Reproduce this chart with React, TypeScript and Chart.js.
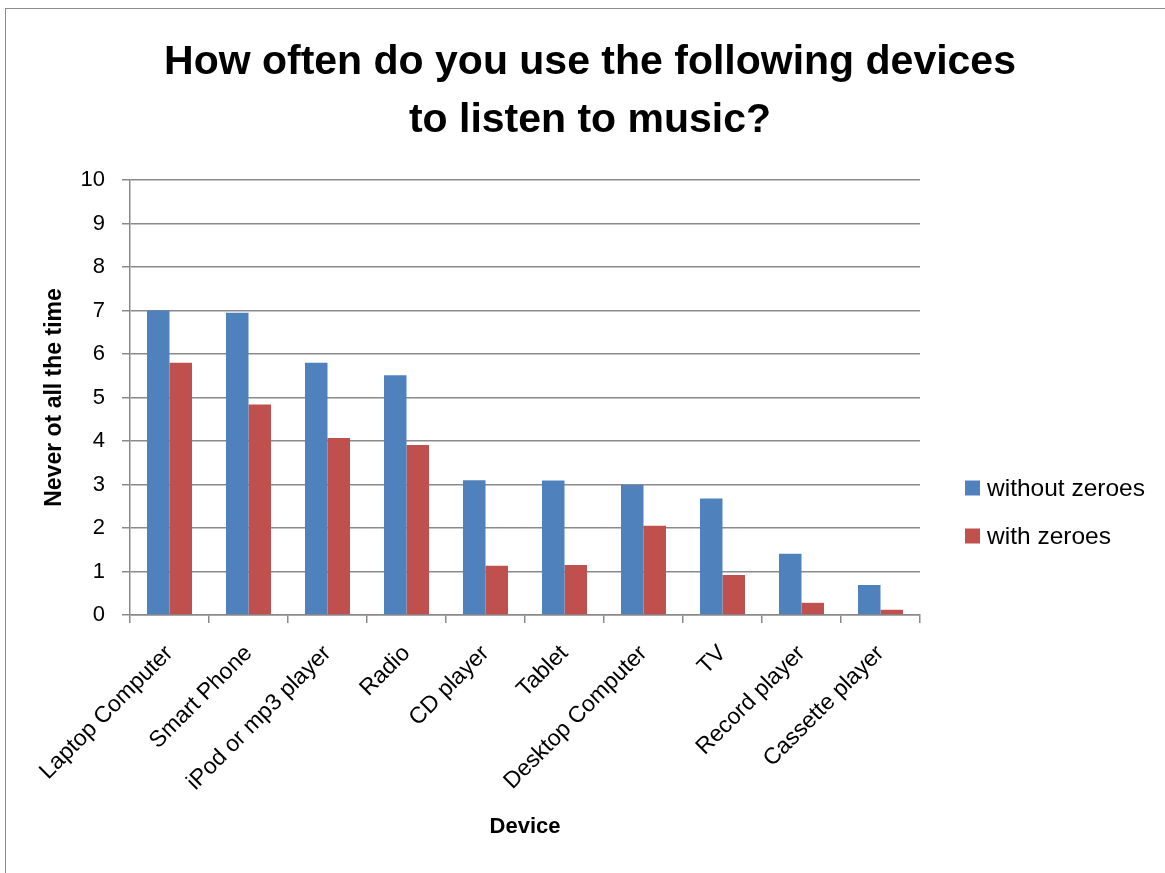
import React, { useEffect, useRef } from "react";
import { Chart, registerables } from "chart.js";

Chart.register(...registerables);

const TITLE_LINES = ["How often do you use the following devices", "to listen to music?"];
const CATEGORIES = [
  "Laptop Computer",
  "Smart Phone",
  "iPod or mp3 player",
  "Radio",
  "CD player",
  "Tablet",
  "Desktop Computer",
  "TV",
  "Record player",
  "Cassette player",
];
const SERIES_NAMES = ["without zeroes", "with zeroes"];
const WITHOUT_ZEROES = [7.0, 6.95, 5.8, 5.51, 3.1, 3.09, 2.99, 2.68, 1.41, 0.69];
const WITH_ZEROES = [5.8, 4.84, 4.07, 3.91, 1.13, 1.15, 2.05, 0.92, 0.28, 0.12];
const COLORS = ["#4F81BD", "#C0504D"];
const Y_TITLE = "Never ot all the time";
const X_TITLE = "Device";

const FONT = "'Liberation Sans', Arial, sans-serif";
const GRID = "#8a8a8a";

const bgPlugin = {
  id: "bgBorder",
  beforeDraw(chart: any) {
    const { ctx, width, height } = chart;
    ctx.save();
    ctx.fillStyle = "#ffffff";
    ctx.fillRect(0, 0, width, height);
    ctx.strokeStyle = "#8c8c8c";
    ctx.lineWidth = 1;
    ctx.strokeRect(5.5, 8.5, width + 20, height + 20);
    ctx.restore();
  },
};

const legendPlugin = {
  id: "sideLegend",
  afterDraw(chart: any) {
    const { ctx } = chart;
    ctx.save();
    ctx.font = `24.5px ${FONT}`;
    ctx.textBaseline = "middle";
    ctx.textAlign = "left";
    const ys = [488, 536];
    chart.data.datasets.forEach((ds: any, i: number) => {
      ctx.fillStyle = ds.backgroundColor;
      ctx.fillRect(965, ys[i] - 7.5, 15, 15);
      ctx.fillStyle = "#000";
      ctx.fillText(ds.label, 987, ys[i] + 1);
    });
    ctx.restore();
  },
};

export default function App() {
  const ref = useRef<HTMLCanvasElement>(null);

  useEffect(() => {
    if (!ref.current) return;
    Chart.defaults.color = "#000";
    const chart = new Chart(ref.current, {
      type: "bar",
      data: {
        labels: CATEGORIES,
        datasets: [
          { label: SERIES_NAMES[0], data: WITHOUT_ZEROES, backgroundColor: COLORS[0], yAxisID: "y" },
          { label: SERIES_NAMES[1], data: WITH_ZEROES, backgroundColor: COLORS[1], yAxisID: "y" },
        ],
      },
      options: {
        animation: false,
        responsive: false,
        layout: { padding: { left: 15, right: 0, top: 0, bottom: 0 } },
        datasets: { bar: { categoryPercentage: 0.57, barPercentage: 1 } },
        plugins: {
          legend: { display: false },
          tooltip: { enabled: false },
          title: {
            display: true,
            text: TITLE_LINES,
            color: "#000",
            font: { family: FONT, size: 41, weight: "bold", lineHeight: "58px" },
            padding: { top: 34, bottom: 30 },
          },
        },
        scales: {
          x: {
            offset: true,
            grid: {
              display: true,
              drawOnChartArea: false,
              drawTicks: true,
              tickLength: 8,
              color: GRID,
              lineWidth: 1.5,
              offset: true,
            },
            border: { display: true, color: GRID, width: 1.5 },
            ticks: {
              autoSkip: false,
              maxRotation: 45,
              minRotation: 45,
              padding: 17,
              color: "#000",
              font: { family: FONT, size: 23 },
            },
            title: {
              display: true,
              text: X_TITLE,
              color: "#000",
              font: { family: FONT, size: 22, weight: "bold" },
              padding: { top: 0, bottom: 33 },
            },
            afterFit(scale: any) {
              scale.height = 258;
            },
          },
          y: {
            min: 0,
            max: 10,
            position: "left",
            ticks: {
              stepSize: 1,
              padding: 17,
              color: "#000",
              font: { family: FONT, size: 22 },
            },
            grid: { color: GRID, lineWidth: 1.5, tickLength: 8 },
            border: { display: true, color: GRID, width: 1.5 },
            title: {
              display: true,
              text: Y_TITLE,
              color: "#000",
              font: { family: FONT, size: 23, weight: "bold" },
              padding: { top: 26, bottom: 0 },
            },
            afterFit(scale: any) {
              scale.width = 115;
            },
          },
          spacer: {
            type: "linear",
            position: "right",
            display: true,
            grid: { display: false },
            border: { display: false },
            ticks: { display: false },
            afterFit(scale: any) {
              scale.width = 245;
            },
          },
        },
      },
      plugins: [bgPlugin, legendPlugin],
    } as any);
    return () => chart.destroy();
  }, []);

  return (
    <div style={{ position: "fixed", left: 0, top: 0, width: 1165, height: 873, background: "#fff" }}>
      <canvas ref={ref} width={1165} height={873} style={{ display: "block" }} />
    </div>
  );
}
